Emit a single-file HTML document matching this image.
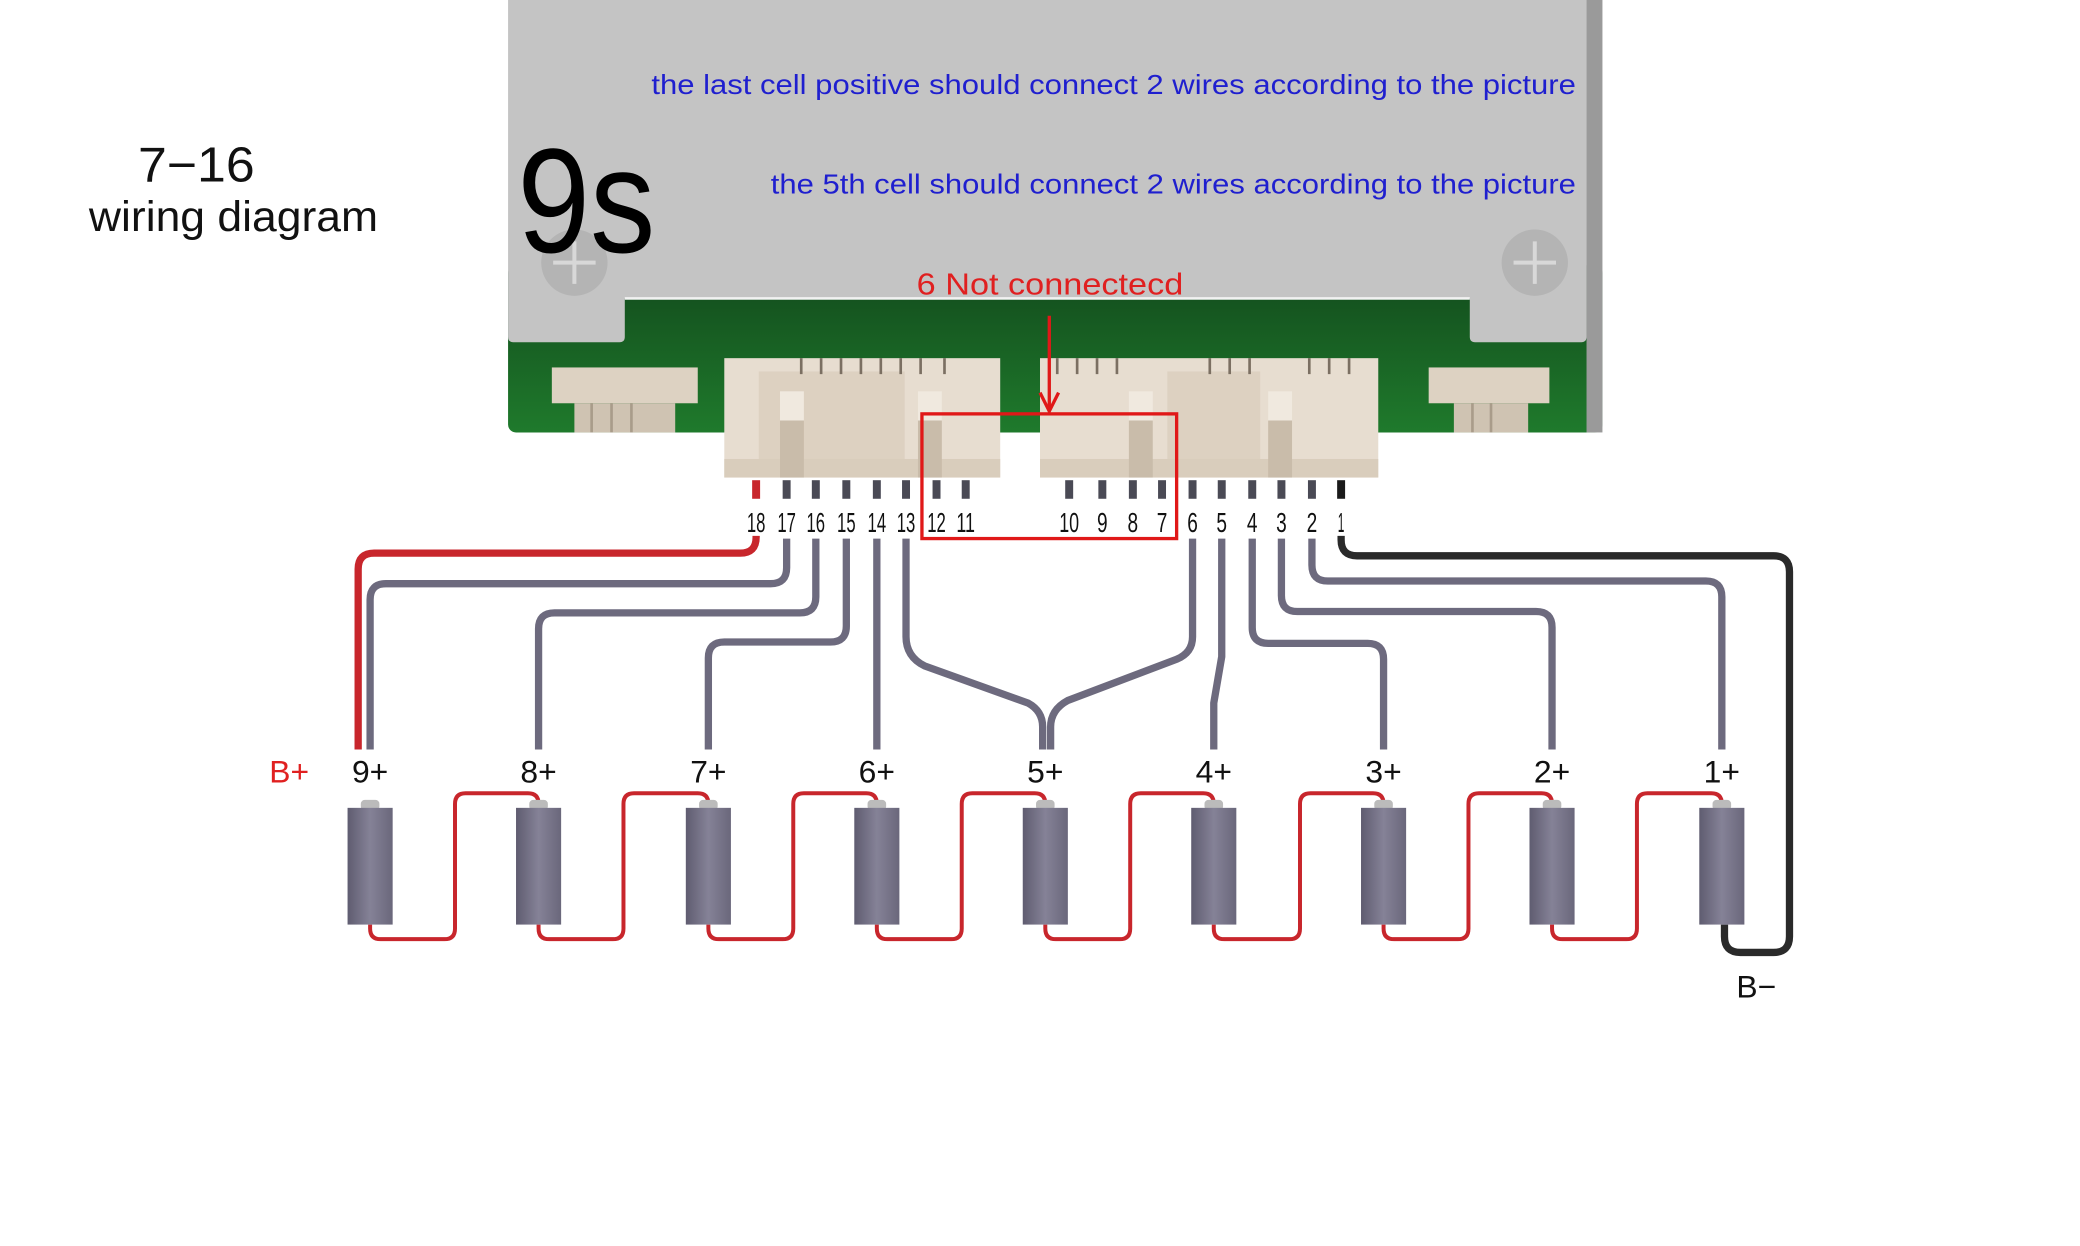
<!DOCTYPE html>
<html><head><meta charset="utf-8"><style>
html,body{margin:0;padding:0;background:#fff;}
svg{display:block;}
text{font-family:"Liberation Sans",sans-serif;}
</style></head><body>
<svg width="2080" height="1246" viewBox="0 0 1568 939.3" xmlns="http://www.w3.org/2000/svg">
<defs>
<linearGradient id="cell" x1="0" x2="1" y1="0" y2="0">
<stop offset="0" stop-color="#5f5c70"/><stop offset="0.5" stop-color="#858297"/><stop offset="1" stop-color="#6a677b"/>
</linearGradient>
<linearGradient id="green" x1="0" x2="0" y1="0" y2="1">
<stop offset="0" stop-color="#124a1c"/><stop offset="1" stop-color="#1f7a2c"/>
</linearGradient>
</defs>
<rect width="1568" height="940" fill="#fff"/>
<rect x="383" y="200" width="825" height="126" rx="6" fill="url(#green)"/>
<rect x="1196" y="0" width="12" height="326" fill="#9a9a9a"/>
<path d="M383,0 H1196 V254 Q1196,258 1192,258 H1112 Q1108,258 1108,254 V225 H471 V254 Q471,258 467,258 H387 Q383,258 383,254 Z" fill="#c4c4c4"/>
<path d="M471,225 H1108" stroke="#f2f2f2" stroke-width="2"/>
<circle cx="433" cy="198" r="25" fill="#b4b4b4"/>
<path d="M433,182 V214 M417,198 H449" stroke="#d8d8d8" stroke-width="3"/>
<circle cx="1157" cy="198" r="25" fill="#b4b4b4"/>
<path d="M1157,182 V214 M1141,198 H1173" stroke="#d8d8d8" stroke-width="3"/>
<text x="390" y="190" font-size="112" fill="#000" textLength="104" lengthAdjust="spacingAndGlyphs">9s</text>
<text x="491" y="71" font-size="21" fill="#1f1fcf" textLength="697" lengthAdjust="spacingAndGlyphs">the last cell positive should connect 2 wires according to the picture</text>
<text x="581" y="146" font-size="21" fill="#1f1fcf" textLength="607" lengthAdjust="spacingAndGlyphs">the 5th cell should connect 2 wires according to the picture</text>
<text x="691" y="222" font-size="23" fill="#e02020" textLength="201" lengthAdjust="spacingAndGlyphs">6 Not connectecd</text>
<rect x="416" y="277" width="110" height="27" fill="#ddd2c2"/>
<rect x="433" y="304" width="76" height="22" fill="#cfc3b2"/>
<path d="M446,304 V326 M461,304 V326 M476,304 V326" stroke="#a99c8a" stroke-width="2"/>
<rect x="1077" y="277" width="91" height="27" fill="#ddd2c2"/>
<rect x="1096" y="304" width="56" height="22" fill="#cfc3b2"/>
<path d="M1110,304 V326 M1124,304 V326" stroke="#a99c8a" stroke-width="2"/>
<rect x="546" y="270" width="208" height="90" fill="#e7ddd0"/>
<rect x="572" y="280" width="110" height="72" fill="#ddd1c1"/>
<rect x="546" y="346" width="208" height="14" fill="#d9cdbc"/>
<rect x="588" y="295" width="18" height="22" fill="#f0e9df"/><rect x="588" y="317" width="18" height="43" fill="#c9bcaa"/>
<rect x="692" y="295" width="18" height="22" fill="#f0e9df"/><rect x="692" y="317" width="18" height="43" fill="#c9bcaa"/>
<path d="M604,270 V282 M619,270 V282 M634,270 V282 M649,270 V282 M664,270 V282 M679,270 V282 M694,270 V282 M712,270 V282" stroke="#7b6f62" stroke-width="2"/>
<rect x="784" y="270" width="255" height="90" fill="#e7ddd0"/>
<rect x="880" y="280" width="70" height="72" fill="#ddd1c1"/>
<rect x="784" y="346" width="255" height="14" fill="#d9cdbc"/>
<rect x="851" y="295" width="18" height="22" fill="#f0e9df"/><rect x="851" y="317" width="18" height="43" fill="#c9bcaa"/>
<rect x="956" y="295" width="18" height="22" fill="#f0e9df"/><rect x="956" y="317" width="18" height="43" fill="#c9bcaa"/>
<path d="M797,270 V282 M812,270 V282 M827,270 V282 M842,270 V282 M912,270 V282 M927,270 V282 M942,270 V282 M987,270 V282 M1002,270 V282 M1017,270 V282" stroke="#7b6f62" stroke-width="2"/>
<rect x="695" y="312" width="192" height="94" fill="none" stroke="#e01818" stroke-width="2.5"/>
<path d="M791,238 V308" stroke="#e01818" stroke-width="2.5"/>
<path d="M784,296 L791,310 L798,296" fill="none" stroke="#e01818" stroke-width="2.5"/>
<g fill="#4a4a55">
<rect x="567" y="362" width="6" height="14" fill="#c8262c"/>
<rect x="590" y="362" width="6" height="14"/><rect x="612" y="362" width="6" height="14"/><rect x="635" y="362" width="6" height="14"/><rect x="658" y="362" width="6" height="14"/><rect x="680" y="362" width="6" height="14"/><rect x="703" y="362" width="6" height="14"/><rect x="725" y="362" width="6" height="14"/>
<rect x="803" y="362" width="6" height="14"/><rect x="828" y="362" width="6" height="14"/><rect x="851" y="362" width="6" height="14"/><rect x="873" y="362" width="6" height="14"/><rect x="896" y="362" width="6" height="14"/><rect x="918" y="362" width="6" height="14"/><rect x="941" y="362" width="6" height="14"/><rect x="963" y="362" width="6" height="14"/><rect x="986" y="362" width="6" height="14"/>
<rect x="1008" y="362" width="6" height="14" fill="#1a1a1a"/>
</g>
<g font-size="21" fill="#111" text-anchor="middle" lengthAdjust="spacingAndGlyphs">
<text x="570" y="401" textLength="14" lengthAdjust="spacingAndGlyphs">18</text>
<text x="593" y="401" textLength="14" lengthAdjust="spacingAndGlyphs">17</text>
<text x="615" y="401" textLength="14" lengthAdjust="spacingAndGlyphs">16</text>
<text x="638" y="401" textLength="14" lengthAdjust="spacingAndGlyphs">15</text>
<text x="661" y="401" textLength="14" lengthAdjust="spacingAndGlyphs">14</text>
<text x="683" y="401" textLength="14" lengthAdjust="spacingAndGlyphs">13</text>
<text x="706" y="401" textLength="14" lengthAdjust="spacingAndGlyphs">12</text>
<text x="728" y="401" textLength="14" lengthAdjust="spacingAndGlyphs">11</text>
<text x="806" y="401" textLength="15" lengthAdjust="spacingAndGlyphs">10</text>
<text x="831" y="401" textLength="8" lengthAdjust="spacingAndGlyphs">9</text>
<text x="854" y="401" textLength="8" lengthAdjust="spacingAndGlyphs">8</text>
<text x="876" y="401" textLength="8" lengthAdjust="spacingAndGlyphs">7</text>
<text x="899" y="401" textLength="8" lengthAdjust="spacingAndGlyphs">6</text>
<text x="921" y="401" textLength="8" lengthAdjust="spacingAndGlyphs">5</text>
<text x="944" y="401" textLength="8" lengthAdjust="spacingAndGlyphs">4</text>
<text x="966" y="401" textLength="8" lengthAdjust="spacingAndGlyphs">3</text>
<text x="989" y="401" textLength="8" lengthAdjust="spacingAndGlyphs">2</text>
<text x="1011" y="401" textLength="5" lengthAdjust="spacingAndGlyphs">1</text>
</g>
<g fill="none" stroke="#6d6a7e" stroke-width="5.5" stroke-linecap="butt">
<path d="M593,406 V428 Q593,440 581,440 H291 Q279,440 279,452 V565"/>
<path d="M615,406 V450 Q615,462 603,462 H418 Q406,462 406,474 V565"/>
<path d="M638,406 V472 Q638,484 626,484 H546 Q534,484 534,496 V565"/>
<path d="M661,406 V565"/>
<path d="M683,406 V480 Q683,495 697,502 L775,530 Q786,536 786,548 V565"/>
<path d="M899,406 V480 Q899,492 887,497 L805,528 Q792,535 792,548 V565"/>
<path d="M921,406 V495 L915,530 V565"/>
<path d="M944,406 V473 Q944,485 956,485 H1031 Q1043,485 1043,497 V565"/>
<path d="M966,406 V449 Q966,461 978,461 H1158 Q1170,461 1170,473 V565"/>
<path d="M989,406 V426 Q989,438 1001,438 H1286 Q1298,438 1298,450 V565"/>
</g>
<path d="M570,404 V405 Q570,417 558,417 H282 Q270,417 270,429 V565" fill="none" stroke="#c8262c" stroke-width="5.5"/>
<path d="M1011,404 V407 Q1011,419 1023,419 H1337 Q1349,419 1349,431 V706 Q1349,718 1337,718 H1312 Q1300,718 1300,706 V697" fill="none" stroke="#2a2a2a" stroke-width="5.5"/>
<g fill="none" stroke="#c8262c" stroke-width="3">
<path d="M279,697 V700 Q279,708 287,708 H335 Q343,708 343,700 V606 Q343,598 351,598 H398 Q406,598 406,606"/>
<path d="M406,697 V700 Q406,708 414,708 H462 Q470,708 470,700 V606 Q470,598 478,598 H526 Q534,598 534,606"/>
<path d="M534,697 V700 Q534,708 542,708 H590 Q598,708 598,700 V606 Q598,598 606,598 H653 Q661,598 661,606"/>
<path d="M661,697 V700 Q661,708 669,708 H717 Q725,708 725,700 V606 Q725,598 733,598 H780 Q788,598 788,606"/>
<path d="M788,697 V700 Q788,708 796,708 H844 Q852,708 852,700 V606 Q852,598 860,598 H907 Q915,598 915,606"/>
<path d="M915,697 V700 Q915,708 923,708 H972 Q980,708 980,700 V606 Q980,598 988,598 H1035 Q1043,598 1043,606"/>
<path d="M1043,697 V700 Q1043,708 1051,708 H1099 Q1107,708 1107,700 V606 Q1107,598 1115,598 H1162 Q1170,598 1170,606"/>
<path d="M1170,697 V700 Q1170,708 1178,708 H1226 Q1234,708 1234,700 V606 Q1234,598 1242,598 H1290 Q1298,598 1298,606"/>
</g>
<g>
<g transform="translate(279,0)"><rect x="-7" y="603" width="14" height="8" rx="3" fill="#bbb"/><rect x="-17" y="609" width="34" height="88" fill="url(#cell)"/></g>
<g transform="translate(406,0)"><rect x="-7" y="603" width="14" height="8" rx="3" fill="#bbb"/><rect x="-17" y="609" width="34" height="88" fill="url(#cell)"/></g>
<g transform="translate(534,0)"><rect x="-7" y="603" width="14" height="8" rx="3" fill="#bbb"/><rect x="-17" y="609" width="34" height="88" fill="url(#cell)"/></g>
<g transform="translate(661,0)"><rect x="-7" y="603" width="14" height="8" rx="3" fill="#bbb"/><rect x="-17" y="609" width="34" height="88" fill="url(#cell)"/></g>
<g transform="translate(788,0)"><rect x="-7" y="603" width="14" height="8" rx="3" fill="#bbb"/><rect x="-17" y="609" width="34" height="88" fill="url(#cell)"/></g>
<g transform="translate(915,0)"><rect x="-7" y="603" width="14" height="8" rx="3" fill="#bbb"/><rect x="-17" y="609" width="34" height="88" fill="url(#cell)"/></g>
<g transform="translate(1043,0)"><rect x="-7" y="603" width="14" height="8" rx="3" fill="#bbb"/><rect x="-17" y="609" width="34" height="88" fill="url(#cell)"/></g>
<g transform="translate(1170,0)"><rect x="-7" y="603" width="14" height="8" rx="3" fill="#bbb"/><rect x="-17" y="609" width="34" height="88" fill="url(#cell)"/></g>
<g transform="translate(1298,0)"><rect x="-7" y="603" width="14" height="8" rx="3" fill="#bbb"/><rect x="-17" y="609" width="34" height="88" fill="url(#cell)"/></g>
</g>
<g font-size="24" fill="#111" text-anchor="middle">
<text x="279" y="590">9+</text><text x="406" y="590">8+</text><text x="534" y="590">7+</text>
<text x="661" y="590">6+</text><text x="788" y="590">5+</text><text x="915" y="590">4+</text>
<text x="1043" y="590">3+</text><text x="1170" y="590">2+</text><text x="1298" y="590">1+</text>
</g>
<text x="203" y="590" font-size="24" fill="#e02020">B+</text>
<text x="1309" y="752" font-size="24" fill="#111">B−</text>
<text x="104" y="137" font-size="37" fill="#111" textLength="88" lengthAdjust="spacingAndGlyphs">7−16</text>
<text x="67" y="174" font-size="32" fill="#111" textLength="218" lengthAdjust="spacingAndGlyphs">wiring diagram</text>
</svg>
</body></html>
